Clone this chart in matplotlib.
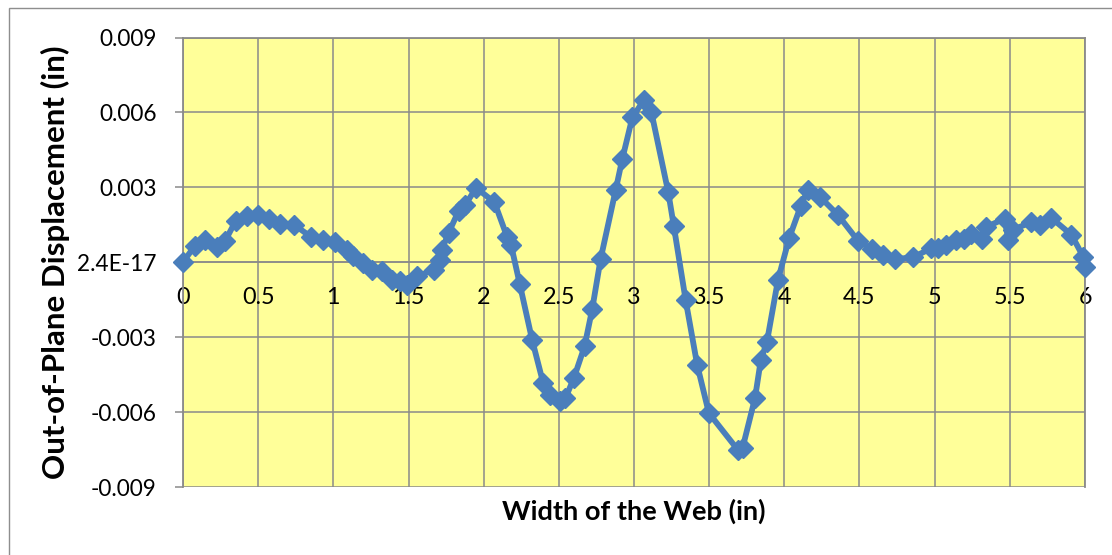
import matplotlib
matplotlib.use("Agg")
import matplotlib.pyplot as plt
from matplotlib.patches import Rectangle

# Web width positions (in) and out-of-plane displacement (in)
width_in = [
    0.0, 0.08, 0.145, 0.223, 0.28, 0.35, 0.425, 0.5, 0.57, 0.645,
    0.74, 0.85, 0.933, 1.01, 1.089, 1.133, 1.2, 1.256, 1.322, 1.389,
    1.444, 1.489, 1.556, 1.667, 1.711, 1.722, 1.767, 1.833, 1.878, 1.95,
    2.072, 2.155, 2.182, 2.24, 2.322, 2.396, 2.444, 2.511, 2.544, 2.6,
    2.671, 2.722, 2.778, 2.878, 2.922, 2.989, 3.067, 3.116, 3.228, 3.265,
    3.344, 3.42, 3.498, 3.689, 3.722, 3.805, 3.844, 3.884, 3.958, 4.033,
    4.109, 4.156, 4.24, 4.356, 4.489, 4.582, 4.656, 4.733, 4.856, 4.978,
    5.022, 5.078, 5.144, 5.196, 5.24, 5.317, 5.34, 5.465, 5.49, 5.52,
    5.64, 5.70, 5.775, 5.91, 5.99, 6.0,
]
displacement = [
    0.0, 0.00067, 0.00088, 0.0006, 0.00085, 0.00165, 0.00186, 0.0019, 0.00175, 0.00152,
    0.0015, 0.00102, 0.0009, 0.0008, 0.0005, 0.00024, -0.00005, -0.0003, -0.00036, -0.0007,
    -0.00075, -0.0009, -0.00057, -0.0003, 0.0001, 0.0005, 0.00118, 0.00205, 0.0023, 0.00298,
    0.0024, 0.00103, 0.0007, -0.00087, -0.0031, -0.00484, -0.0053, -0.00557, -0.00544, -0.00464,
    -0.00337, -0.00188, 0.00013, 0.00289, 0.00413, 0.0058, 0.0065, 0.006, 0.0028, 0.00144,
    -0.00153, -0.0041, -0.00604, -0.0075, -0.00744, -0.00544, -0.0039, -0.0032, -0.0007, 0.00098,
    0.00225, 0.0029, 0.0026, 0.0019, 0.00087, 0.00052, 0.0003, 0.00012, 0.0002, 0.00056,
    0.00056, 0.0007, 0.0009, 0.00093, 0.00113, 0.00093, 0.0014, 0.00175, 0.0009, 0.0013,
    0.0016, 0.0015, 0.00178, 0.0011, 0.0002, -0.0002,
]

x_ticks = [0, 0.5, 1, 1.5, 2, 2.5, 3, 3.5, 4, 4.5, 5, 5.5, 6]
x_tick_labels = ["0", "0.5", "1", "1.5", "2", "2.5", "3", "3.5", "4", "4.5", "5", "5.5", "6"]
y_ticks = [-0.009, -0.006, -0.003, 0.0, 0.003, 0.006, 0.009]
y_tick_labels = ["-0.009", "-0.006", "-0.003", "2.4E-17", "0.003", "0.006", "0.009"]

plt.rcParams["font.family"] = ["Lato", "DejaVu Sans"]

W, H = 1112, 555
fig = plt.figure(figsize=(W / 100, H / 100), dpi=100)
fig.patch.set_facecolor("white")

# chart border (top and left edges of the chart frame)
fig.patches.append(Rectangle((9 / W, -0.1), 1.2, 1 - 8 / H + 0.1,
                             transform=fig.transFigure, fill=False,
                             edgecolor="#8e8e8e", linewidth=1.0))

left, right, top, bottom = 183 / W, 1085 / W, 1 - 37.5 / H, 1 - 487 / H
ax = fig.add_axes([left, bottom, right - left, top - bottom])
ax.set_facecolor("#FFFF99")

grid_color = "#8a8a8a"
ax.set_xlim(0, 6)
ax.set_ylim(-0.009, 0.009)
ax.set_xticks(x_ticks)
ax.set_xticklabels(x_tick_labels)
ax.set_yticks(y_ticks)
ax.set_yticklabels(y_tick_labels)
ax.grid(True, color=grid_color, linewidth=1.1, zorder=0)
ax.set_axisbelow(True)

for side in ["left", "right", "top"]:
    ax.spines[side].set_color(grid_color)
    ax.spines[side].set_linewidth(1.3)
ax.spines["bottom"].set_position(("data", 0))
ax.spines["bottom"].set_color(grid_color)
ax.spines["bottom"].set_linewidth(1.1)

ax.tick_params(axis="y", length=6, width=1.1, color=grid_color, pad=13,
               labelsize=16.3, labelcolor="black")
ax.tick_params(axis="x", length=0, pad=17.5, labelsize=16.8, labelcolor="black")

ax.plot(width_in, displacement, color="#4A7EBB", linewidth=4.2,
        marker="D", markersize=10, markerfacecolor="#4A7EBB",
        markeredgecolor="#4A7EBB", zorder=3, clip_on=False)

ax.set_xlabel("Width of the Web (in)", fontsize=19.6, fontweight="bold")
ax.xaxis.set_label_coords(0.5, -0.055)
ax.xaxis.label.set_va("center")
ax.set_ylabel("Out-of-Plane Displacement (in)", fontsize=22.5, fontweight="bold")
ax.yaxis.set_label_coords((55 - 183) / 902, 0.5)
ax.yaxis.label.set_va("center")

fig.savefig("out.png", dpi=100)
